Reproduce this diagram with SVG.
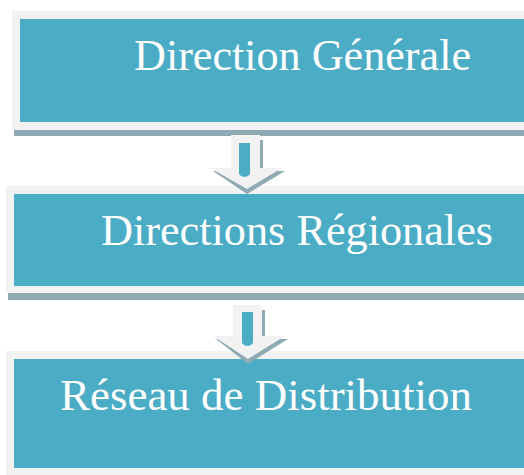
<svg xmlns="http://www.w3.org/2000/svg" width="524" height="475" viewBox="0 0 524 475">
<style>
.frame{fill:#F2F2F2}
.box{fill:#4BACC6}
.shadow{fill:#8FAAB2}
.lbl{fill:#FFFFFF;font-family:"Liberation Serif","Times New Roman",serif;font-size:44px}
.arr{fill:#F2F2F2}
.bar{fill:#4BACC6}
</style>
<rect width="524" height="475" fill="#FFFFFF"/>
<g id="node1">
<rect class="shadow" x="14" y="130" width="510" height="6"/>
<rect class="frame" x="12" y="11" width="512" height="119"/>
<rect class="box" x="20" y="19" width="504" height="103"/>
<text class="lbl" x="134" y="70" textLength="337" lengthAdjust="spacingAndGlyphs">Direction Générale</text>
</g>
<g id="node2">
<rect class="shadow" x="8" y="293" width="516" height="7"/>
<rect class="frame" x="6" y="186" width="518" height="107"/>
<rect class="box" x="14" y="194" width="510" height="92"/>
<text class="lbl" x="101" y="245" textLength="392" lengthAdjust="spacingAndGlyphs">Directions Régionales</text>
</g>
<g id="node3">
<rect class="frame" x="6" y="351" width="518" height="124"/>
<rect class="box" x="14" y="359" width="510" height="109"/>
<text class="lbl" x="60" y="410" textLength="412" lengthAdjust="spacingAndGlyphs">Réseau de Distribution</text>
</g>
<g id="connectors">
<g id="arrow1">
<polygon class="shadow" points="234,140 263,140 263,171 285,171 247,194 213,171 234,171"/>
<polygon class="arr" points="231,135 260,135 260,168 282,168 247,189 210,168 231,168"/>
<path class="bar" d="M239,143 h11 v30 q0,3 -5.5,4 q-5.5,-1 -5.5,-4 z"/>
</g>
<g id="arrow2">
<polygon class="shadow" points="236,310 265,310 265,339 288,339 248,364 216,339 236,339"/>
<polygon class="arr" points="233,305 262,305 262,336 285,336 248,359 213,336 233,336"/>
<path class="bar" d="M242,312 h11 v30 q0,3 -5.5,4 q-5.5,-1 -5.5,-4 z"/>
</g>
</g>
</svg>
